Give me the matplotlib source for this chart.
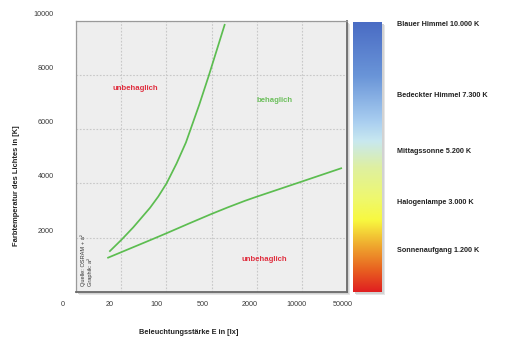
import numpy as np
import matplotlib
matplotlib.use("Agg")
import matplotlib.pyplot as plt
from matplotlib.colors import LinearSegmentedColormap
from matplotlib.transforms import ScaledTranslation, blended_transform_factory
from matplotlib.patches import Rectangle

# ---------------- data ----------------
x_tick_labels = ["0", "20", "100", "500", "2000", "10000", "50000"]
x_tick_lux = [20, 100, 500, 2000, 10000, 50000]          # lux of ticks 1..6
y_ticks = [2000, 4000, 6000, 8000, 10000]

upper_lux = [13.1, 20.4, 30.8, 55.9, 75.1, 101, 144, 201, 324, 452, 591, 754]
upper_k = [1478, 1928, 2379, 3099, 3517, 4005, 4736, 5512, 6915, 7968, 8947, 9889]
lower_lux = [12.2, 20.4, 55.9, 101, 224, 497, 829, 1397, 2023, 10048, 41820]
lower_k = [1245, 1467, 1902, 2161, 2519, 2870, 3118, 3358, 3513, 4071, 4570]

region_text = ["unbehaglich", "behaglich", "unbehaglich"]
region_lux = [33.4, 3742, 2594]
region_k = [7488, 7078, 1182]
region_col = ["#e03040", "#6cbf5c", "#e03040"]

scale_names = ["Blauer Himmel 10.000 K", "Bedeckter Himmel 7.300 K",
               "Mittagssonne 5.200 K", "Halogenlampe 3.000 K",
               "Sonnenaufgang 1.200 K"]
scale_k = [10000, 7300, 5200, 3000, 1200]
scale_nudge_px = [-3, -1, 0, 8, 9]

grad_pos = [0.0, 0.08, 0.18, 0.265, 0.35, 0.46, 0.56, 0.635, 0.80, 1.0]
grad_col = ["#e02020", "#e86020", "#f0b030", "#f8f840", "#eef870",
            "#dff0a0", "#c8e8f0", "#a8cdf0", "#6a95d8", "#4a6cc4"]


def lux_to_pos(lux):
    ref = np.log10(x_tick_lux)
    pos = np.arange(1, len(x_tick_labels))
    lg = np.log10(np.asarray(lux, float))
    p = np.interp(lg, ref, pos)
    slope = (pos[1] - pos[0]) / (ref[1] - ref[0])
    return np.where(lg < ref[0], pos[0] + (lg - ref[0]) * slope, p)


plt.rcParams['font.family'] = ['Liberation Sans', 'DejaVu Sans']

W, H = 506, 347
fig = plt.figure(figsize=(W / 100, H / 100), dpi=100)
fig.patch.set_facecolor("white")

def fr(x0, y0, x1, y1):
    return [x0 / W, 1 - y1 / H, (x1 - x0) / W, (y1 - y0) / H]

# shadows
for (x0, y0, x1, y1) in [(76, 21, 347, 291.7), (352.7, 21.7, 381.7, 291.7)]:
    for k, c in [(3, "#e6e6e6"), (2, "#d2d2d2")]:
        fig.patches.append(Rectangle(((x0 + k) / W, 1 - (y1 + k) / H),
                                     (x1 - x0) / W, (y1 - y0) / H,
                                     transform=fig.transFigure, facecolor=c,
                                     edgecolor="none", zorder=-5))

ax = fig.add_axes(fr(76, 21, 347, 291.7))
ax.set_facecolor("#eeeeee")
ax.set_xlim(0, len(x_tick_labels) - 1)
ax.set_ylim(0, 10000)

ax.set_xticks(np.arange(len(x_tick_labels)), x_tick_labels)
ax.set_yticks(y_ticks, [str(v) for v in y_ticks])
ax.grid(True, color="#c8c8c8", linestyle=(0, (1.5, 1.5)), linewidth=0.8)
ax.tick_params(length=0, labelsize=5.2, labelcolor="#3a3a3a")
ax.tick_params(axis='y', pad=16)
ax.tick_params(axis='x', pad=7)

for i, lab in enumerate(ax.get_xticklabels()):
    dx = (-13 + 1.5 * i) / 100
    lab.set_transform(lab.get_transform() + ScaledTranslation(dx, 0, fig.dpi_scale_trans))
for lab in ax.get_yticklabels():
    lab.set_transform(lab.get_transform() + ScaledTranslation(0, 7.5 / 100, fig.dpi_scale_trans))

for s in ["left", "top"]:
    ax.spines[s].set_color("#9a9a9a")
    ax.spines[s].set_linewidth(0.9)
for s in ["right", "bottom"]:
    ax.spines[s].set_color("#6a6a6a")
    ax.spines[s].set_linewidth(1.3)

ax.plot(lux_to_pos(upper_lux), upper_k, color="#5cbd50", lw=1.25,
        solid_capstyle="butt", solid_joinstyle="round")
ax.plot(lux_to_pos(lower_lux), lower_k, color="#5cbd50", lw=1.25,
        solid_capstyle="butt", solid_joinstyle="round")

for t, lx, k, c in zip(region_text, region_lux, region_k, region_col):
    ax.text(lux_to_pos([lx])[0], k, t, color=c, fontsize=5.6, fontweight="bold",
            ha="center", va="center")

ax.text(0.015, 0.02, "Quelle: OSRAM + a²\nGraphik: a²", transform=ax.transAxes,
        rotation=90, fontsize=4.1, color="#333333", ha="left", va="bottom",
        linespacing=1.3)

# colour scale
cax = fig.add_axes(fr(352.7, 21.7, 381.7, 291.7))
cmap = LinearSegmentedColormap.from_list("kelvin", list(zip(grad_pos, grad_col)))
grad = np.linspace(0, 1, 512).reshape(-1, 1)
cax.imshow(grad, cmap=cmap, aspect="auto", origin="lower", extent=[0, 1, 0, 10000])
cax.set_xlim(0, 1)
cax.set_ylim(0, 10000)
cax.set_xticks([])
cax.set_yticks([])
for s in cax.spines.values():
    s.set_visible(False)

tr = blended_transform_factory(cax.transAxes, cax.transData)
for name, k, dy in zip(scale_names, scale_k, scale_nudge_px):
    cax.text(1.52, k, name, transform=tr + ScaledTranslation(0, dy / 100, fig.dpi_scale_trans),
             fontsize=5.2, fontweight="bold", color="#222222", ha="left", va="center")

fig.text(189 / W, 1 - 333 / H, "Beleuchtungsstärke E in [lx]", fontsize=5.3,
         fontweight="bold", color="#222222", ha="center", va="center")
fig.text(17 / W, 1 - 186 / H, "Farbtemperatur des Lichtes in [K]", fontsize=5.4,
         fontweight="bold", color="#222222", ha="center", va="center", rotation=90)

fig.savefig("out.png", dpi=100)
